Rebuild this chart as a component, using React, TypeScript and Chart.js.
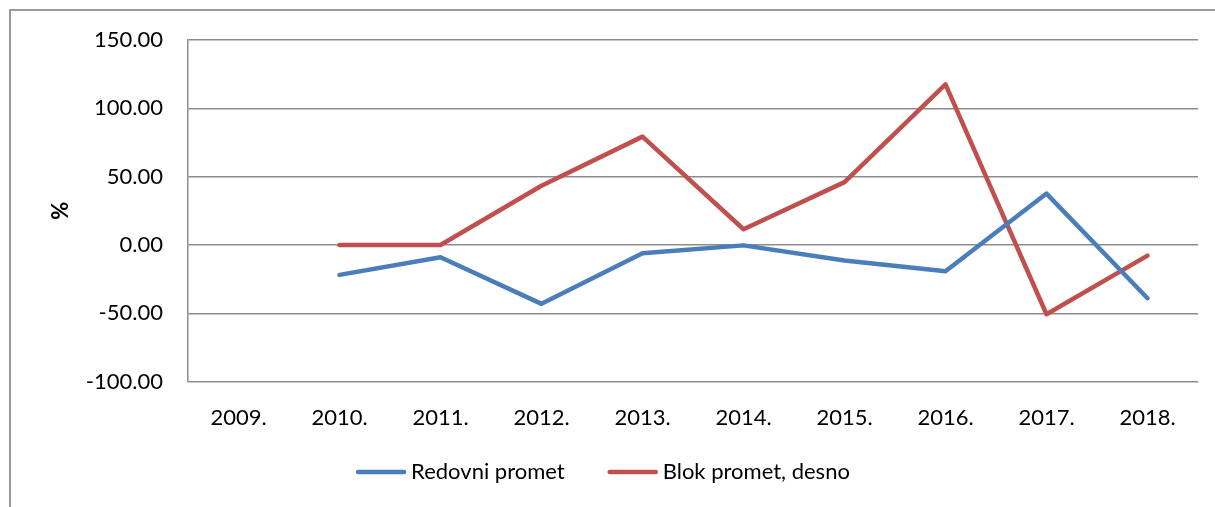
import React, { useEffect, useRef } from 'react';
import { Chart, registerables } from 'chart.js';

Chart.register(...registerables);

const categories = ['2009.', '2010.', '2011.', '2012.', '2013.', '2014.', '2015.', '2016.', '2017.', '2018.'];
const redovniPromet = [null, -21.9, -9.0, -43.1, -6.1, -0.3, -11.4, -19.3, 37.6, -39.0];
const blokPromet = [null, 0, 0, 43.3, 79.3, 11.5, 46.0, 117.5, -50.7, -7.8];
const yMin = -100;
const yMax = 150;
const yStep = 50;

const FONT = 'Lato, "Open Sans", sans-serif';

const legendPlugin = {
  id: 'customLegend',
  afterDraw(chart: any) {
    const ctx = chart.ctx;
    const sets = chart.data.datasets;
    const lineW = 50;
    const lineGap = 5;
    const itemGap = 43;
    const y = 472;
    ctx.save();
    ctx.font = `22px ${FONT}`;
    const widths = sets.map((d: any) => ctx.measureText(d.label).width);
    let total = 0;
    widths.forEach((w: number, i: number) => {
      total += lineW + lineGap + w + (i < widths.length - 1 ? itemGap : 0);
    });
    let x = 603 - total / 2;
    sets.forEach((d: any, i: number) => {
      ctx.strokeStyle = d.borderColor;
      ctx.lineWidth = 4.5;
      ctx.lineCap = 'round';
      ctx.beginPath();
      ctx.moveTo(x + 2, y);
      ctx.lineTo(x + lineW - 2, y);
      ctx.stroke();
      ctx.fillStyle = '#000';
      ctx.textBaseline = 'middle';
      ctx.textAlign = 'left';
      ctx.fillText(d.label, x + lineW + lineGap, y);
      x += lineW + lineGap + widths[i] + itemGap;
    });
    ctx.restore();
  },
};

export default function App() {
  const ref = useRef<HTMLCanvasElement | null>(null);

  useEffect(() => {
    if (!ref.current) return;
    const chart = new Chart(ref.current, {
      type: 'line',
      data: {
        labels: categories,
        datasets: [
          {
            label: 'Redovni promet',
            data: redovniPromet,
            borderColor: '#4A7EBB',
            backgroundColor: '#4A7EBB',
            borderWidth: 4.5,
            borderCapStyle: 'round',
            borderJoinStyle: 'round',
            pointRadius: 0,
            tension: 0,
            spanGaps: false,
          },
          {
            label: 'Blok promet, desno',
            data: blokPromet,
            borderColor: '#C0504D',
            backgroundColor: '#C0504D',
            borderWidth: 4.5,
            borderCapStyle: 'round',
            borderJoinStyle: 'round',
            pointRadius: 0,
            tension: 0,
            spanGaps: false,
          },
        ],
      },
      options: {
        animation: false,
        responsive: false,
        maintainAspectRatio: false,
        layout: { padding: { left: 8, right: 17, top: 40, bottom: 53 } },
        plugins: {
          tooltip: { enabled: false },
          legend: { display: false },
        },
        scales: {
          x: {
            offset: true,
            grid: { display: false, drawTicks: false },
            border: { display: false },
            ticks: { color: '#000', font: { family: FONT, size: 22 }, padding: 23, maxRotation: 0 },
          },
          y: {
            min: yMin,
            max: yMax,
            afterFit: (scale: any) => {
              scale.width = 180;
            },
            ticks: {
              stepSize: yStep,
              color: '#000',
              padding: 25,
              font: { family: FONT, size: 22 },
              callback: (v: any) => Number(v).toFixed(2),
            },
            grid: { color: '#8c8c8c', lineWidth: 1.5, drawTicks: false },
            border: { display: true, color: '#8c8c8c', width: 1.5 },
            title: {
              display: true,
              text: '%',
              color: '#000',
              font: { family: FONT, size: 22, weight: 'bold' },
              padding: { top: 40, bottom: 0 },
            },
          },
        },
      },
      plugins: [legendPlugin],
    });
    return () => chart.destroy();
  }, []);

  return (
    <div style={{ position: 'fixed', left: 0, top: 0, width: 1215, height: 507, background: '#fff', overflow: 'hidden' }}>
      <div
        style={{
          position: 'absolute',
          left: 9,
          top: 9,
          width: 1300,
          height: 600,
          borderLeft: '2px solid #9a9a9a',
          borderTop: '2px solid #9a9a9a',
        }}
      />
      <canvas ref={ref} width={1215} height={507} style={{ position: 'absolute', left: 0, top: 0, width: 1215, height: 507 }} />
    </div>
  );
}
